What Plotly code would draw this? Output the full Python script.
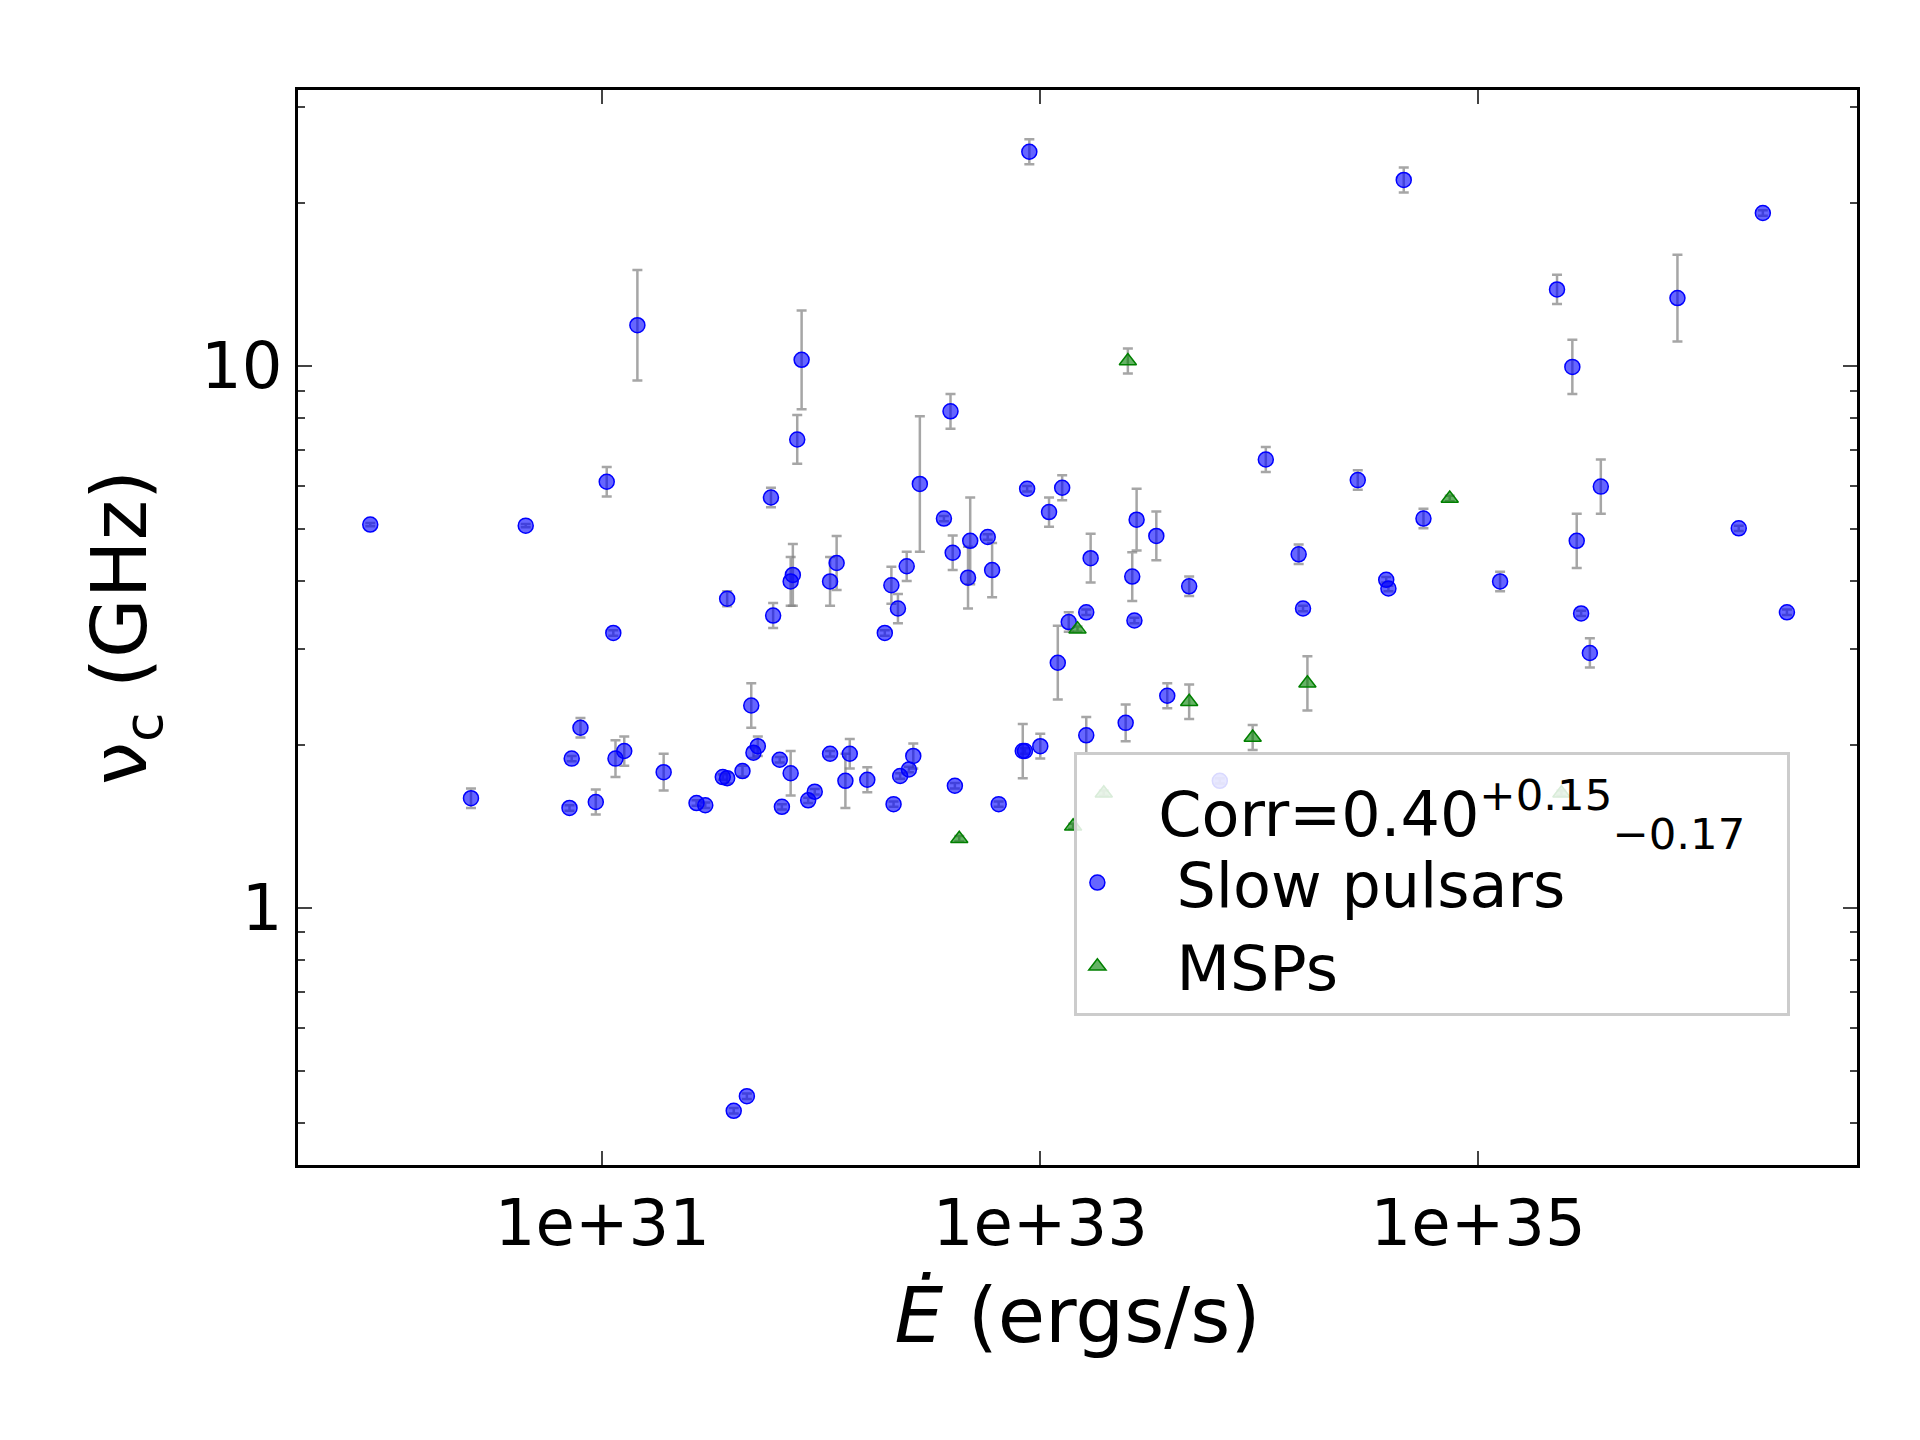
import numpy as np
import plotly.graph_objects as go

# log10(Edot), log10(nu_c/GHz), log10 error half-width
slow_logE = [29.94,30.40,30.65,30.85,30.86,30.90,30.97,31.02,31.05,31.06,31.10,31.16,31.28,31.43,31.47,31.55,31.57,31.57,31.60,31.66,
             31.64,31.68,31.69,31.71,31.77,31.78,31.81,31.82,31.86,31.87,31.86,31.89,31.91,31.94,31.97,32.04,32.04,32.07,32.11,32.13,
             32.21,32.29,32.32,32.33,32.35,32.36,32.39,32.40,32.42,32.45,32.56,32.59,32.60,32.61,32.67,32.68,32.76,32.78,32.81,32.92,
             32.93,32.94,32.95,33.00,33.04,33.08,33.10,33.13,33.21,33.21,33.23,33.39,33.42,33.43,33.44,33.53,33.58,33.68,33.82,34.03,
             34.18,34.20,34.45,34.58,34.59,34.66,34.75,35.10,35.36,35.43,35.45,35.47,35.51,35.56,35.91,36.19,36.30,36.41]
slow_logNu = [0.707,0.202,0.705,0.184,0.275,0.332,0.195,0.786,0.507,0.275,0.289,1.075,0.250,0.193,0.189,0.241,0.570,0.239,-0.375,-0.348,
              0.252,0.373,0.286,0.298,0.757,0.539,0.273,0.186,0.602,0.614,0.248,0.864,1.011,0.198,0.214,0.284,0.602,0.636,0.234,0.284,
              0.236,0.507,0.595,0.191,0.552,0.243,0.630,0.255,0.280,0.782,0.718,0.916,0.655,0.225,0.609,0.677,0.684,0.623,0.191,0.289,
              0.289,0.773,1.395,0.298,0.730,0.452,0.775,0.527,0.545,0.318,0.645,0.341,0.611,0.530,0.716,0.686,0.391,0.593,0.234,0.827,
              0.652,0.552,0.789,0.605,0.589,1.343,0.718,0.602,1.141,0.998,0.677,0.543,0.470,0.777,1.125,0.700,1.282,0.545]
slow_logErr = [0.003,0.018,0.003,0.005,0.005,0.018,0.023,0.027,0.005,0.034,0.027,0.102,0.034,0.005,0.005,0.005,0.014,0.010,0.005,0.005,
               0.010,0.041,0.010,0.018,0.018,0.023,0.005,0.005,0.045,0.057,0.041,0.045,0.091,0.005,0.005,0.005,0.045,0.050,0.050,0.027,
               0.023,0.005,0.034,0.005,0.027,0.005,0.027,0.005,0.023,0.125,0.005,0.032,0.032,0.005,0.057,0.080,0.005,0.050,0.005,0.050,
               0.005,0.005,0.023,0.023,0.027,0.068,0.023,0.018,0.005,0.034,0.045,0.034,0.045,0.005,0.057,0.045,0.023,0.018,0.005,0.023,
               0.018,0.005,0.018,0.005,0.005,0.023,0.018,0.018,0.027,0.050,0.050,0.005,0.027,0.050,0.080,0.005,0.005,0.005]
msp_logE = [32.63,33.15,33.17,33.29,33.40,33.68,33.97,34.22,34.87,35.38]
msp_logNu = [0.127,0.150,0.514,0.211,1.009,0.380,0.314,0.414,0.755,0.211]
msp_logErr = [0.005,0.005,0.005,0.005,0.023,0.032,0.023,0.050,0.005,0.005]

def prep(le, ln, lerr):
    x = 10**np.array(le); y = 10**np.array(ln); e = np.array(lerr)
    return x, y, y*(10**e-1), y*(1-10**-e)

fig = go.Figure()
for name, data, sym, col in [("Slow pulsars", (slow_logE, slow_logNu, slow_logErr), "circle", "0,0,255"),
                             ("MSPs", (msp_logE, msp_logNu, msp_logErr), "triangle-up", "0,128,0")]:
    x, y, ep, em = prep(*data)
    fig.add_trace(go.Scatter(x=x, y=y, mode="markers", name="   " + name,
        marker=dict(symbol=sym, size=15, color=f"rgba({col},0.6)", line=dict(color=f"rgb({col})", width=1.5)),
        error_y=dict(type="data", symmetric=False, array=ep, arrayminus=em, color="rgba(128,128,128,0.7)", thickness=2.5, width=5)))

font = dict(family="DejaVu Sans", size=64, color="black")
fig.update_layout(
    width=1920, height=1440, plot_bgcolor="white", paper_bgcolor="white", font=font,
    margin=dict(l=290, r=71, t=82, b=283),
    legend=dict(x=0.498, y=0.384, xanchor="left", yanchor="top", bgcolor="rgba(255,255,255,0.85)",
                bordercolor="#cccccc", borderwidth=3, font=dict(size=62), tracegroupgap=20,
                title=dict(text="    Corr=0.40<sup>+0.15</sup><sub>−0.17</sub>  ", font=dict(size=62)),
                itemsizing="trace", entrywidth=500),
    xaxis=dict(type="log", range=[29.61, 36.73], tickvals=[1e31, 1e33, 1e35], ticktext=["1e+31", "1e+33", "1e+35"],
               ticks="inside", ticklen=14, tickwidth=2, showline=True, linewidth=2.5, linecolor="black", mirror="ticks",
               showgrid=False, zeroline=False, title=dict(text="<i>Ė</i> (ergs/s)", standoff=30)),
    yaxis=dict(type="log", range=[-0.475, 1.509], tickvals=[1, 10], ticktext=["1", "10"],
               ticks="inside", ticklen=14, tickwidth=2, showline=True, linewidth=2.5, linecolor="black", mirror="ticks",
               minor=dict(tickvals=[0.4,0.5,0.6,0.7,0.8,0.9,2,3,4,5,6,7,8,9,20,30], ticks="inside", ticklen=7, tickwidth=1.5),
               showgrid=False, zeroline=False, title=dict(text="ν<sub>c</sub> (GHz)", standoff=30)),
)
fig.write_html("out.html")
